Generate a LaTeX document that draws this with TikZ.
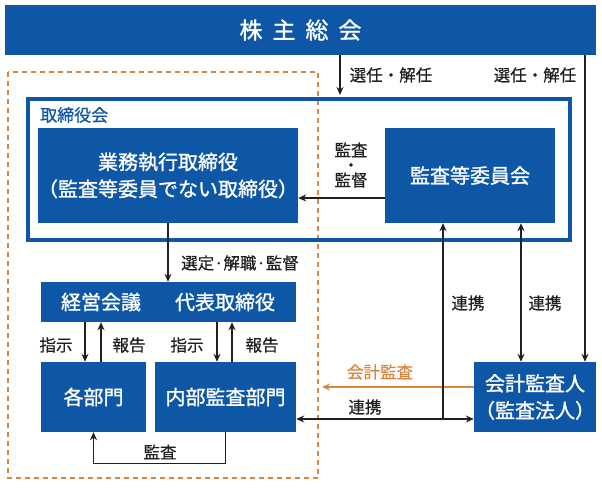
\documentclass[tikz,border=0pt]{standalone}
\usepackage{fontspec}
\setmainfont{Noto Sans CJK JP}
\newfontfamily\boxfont[FakeBold=1.2]{Noto Sans CJK JP}
\newfontfamily\lblfont[FakeBold=0.6]{Noto Sans CJK JP}
\usetikzlibrary{arrows.meta}
\definecolor{boxblue}{HTML}{0D57A6}
\definecolor{audorange}{HTML}{DB843B}
\definecolor{ink}{HTML}{231F20}
\tikzstyle{box} = [rectangle, fill=boxblue, text=white, font=\fontsize{20}{27}\selectfont\boxfont, align=center, inner sep=0pt]
\tikzstyle{boxtext} = [text=white, font=\fontsize{20}{27}\selectfont\boxfont, inner sep=0pt]
\tikzstyle{lbl} = [text=ink, font=\fontsize{16.5}{15}\selectfont\lblfont, align=center, inner sep=0pt]
\tikzstyle{arrow} = [line width=1.3pt, draw=ink, -{Stealth[length=8pt,width=7pt]}]
\tikzstyle{twoway} = [line width=1.3pt, draw=ink, {Stealth[length=8pt,width=7pt]}-{Stealth[length=8pt,width=7pt]}]
\tikzstyle{oarrow} = [line width=1.3pt, draw=audorange, -{Stealth[length=8pt,width=7pt]}]

\begin{document}
\begin{tikzpicture}[x=1pt, y=-1pt]
\useasboundingbox (0,0) rectangle (602,487);

% shareholders
\node (gm) [box, minimum width=591pt, minimum height=50pt, font=\fontsize{23}{27}\selectfont\boxfont] at (300.5,30) {株\hspace{10pt}主\hspace{10pt}総\hspace{10pt}会};

% executive side
\draw [audorange, line width=1.4pt, dash pattern=on 5pt off 4pt] (8,72) rectangle (318,478);

% board of directors
\node (board) [draw=boxblue, line width=4pt, minimum width=542pt, minimum height=141pt, inner sep=0pt] at (299,169.5) {};
\node (boardname) [anchor=west, text=boxblue, font=\fontsize{17}{17}\selectfont\lblfont, inner sep=0pt] at (40,115) {取締役会};
\node (exec) [box, minimum width=256pt, minimum height=95pt] at (168,175.5) {業務執行取締役\\（監査等委員でない取締役）};
\node (ac) [box, minimum width=170pt, minimum height=95pt] at (470,175.5) {監査等委員会};

\node (mgmt) [box, minimum width=255pt, minimum height=40pt] at (168.5,302) {};
\node (keiei) [boxtext] at (101,302) {経営会議};
\node (daihyo) [boxtext] at (225,302) {代表取締役};
\node (depts) [box, minimum width=105pt, minimum height=70pt] at (93.5,397) {各部門};
\node (internal) [box, minimum width=141pt, minimum height=70pt] at (225.5,397) {内部監査部門};
\node (auditor) [box, minimum width=122pt, minimum height=70pt] at (535,397) {会計監査人\\（監査法人）};

% appointment
\coordinate (elect) at (340,0);
\coordinate (elect2) at (585,0);
\draw [arrow, shorten >=2pt] (elect |- gm.south) -- (elect |- board.north);
\draw [arrow] (elect2 |- gm.south) -- (elect2 |- auditor.north);
\node (electlbl) [lbl] at (391,75) {選任・解任};
\node (electlbl2) [lbl] at (535,75) {選任・解任};

% supervision
\coordinate (sup) at (0,198);
\draw [arrow] (ac.west |- sup) -- (exec.east |- sup);
\node (suplbl) [lbl] at (351,165) {監査\\・\\監督};
\draw [arrow] (exec.south) -- (exec.south |- mgmt.north);
\node (selectlbl) [lbl] at (240,263) {選定·解職·監督};

% instructions and reports
\coordinate (i1) at (85,0);
\coordinate (r1) at (101,0);
\coordinate (i2) at (217,0);
\coordinate (r2) at (232,0);
\draw [arrow] (i1 |- mgmt.south) -- (i1 |- depts.north);
\draw [arrow] (r1 |- depts.north) -- (r1 |- mgmt.south);
\draw [arrow] (i2 |- mgmt.south) -- (i2 |- internal.north);
\draw [arrow] (r2 |- internal.north) -- (r2 |- mgmt.south);
\node (instr1) [lbl] at (56,345) {指示};
\node (rep1) [lbl] at (129,345) {報告};
\node (instr2) [lbl] at (187,345) {指示};
\node (rep2) [lbl] at (262,345) {報告};

% internal audit
\draw [arrow] (internal.south) -- ++(0,31) -| (depts.south);
\node (intlbl) [lbl] at (160,452) {監査};

% accounting audit
\coordinate (accend) at (322,387);
\draw [oarrow] (auditor.west |- accend) -- (accend);
\node (acclbl) [lbl, text=audorange] at (380,372) {会計監査};

% cooperation
\coordinate (link) at (0,419);
\coordinate (linkup) at (443,419);
\coordinate (link2) at (521,0);
\draw [twoway] (internal.east |- link) -- (auditor.west |- link);
\draw [arrow] (linkup) -- (linkup |- ac.south);
\draw [twoway] (link2 |- ac.south) -- (link2 |- auditor.north);
\node (linklbl) [lbl] at (365,407) {連携};
\node (linklbl2) [lbl] at (468,303) {連携};
\node (linklbl3) [lbl] at (545,303) {連携};
\end{tikzpicture}
\end{document}
